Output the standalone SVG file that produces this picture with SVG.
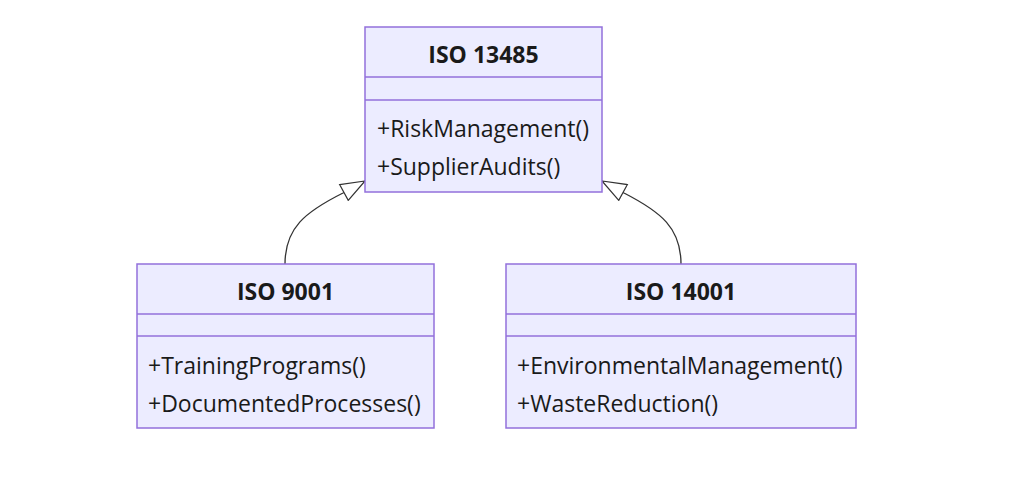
<svg xmlns="http://www.w3.org/2000/svg" width="1024" height="490" viewBox="0 0 1024 490">
<defs>
<style>
.box{fill:#ECECFF;stroke:#9370DB;stroke-width:1.5}
.div{stroke:#9370DB;stroke-width:1.5}
.title{font-family:"Open Sans","Noto Sans",sans-serif;font-weight:bold;font-size:23px;fill:#1a1a1a;text-anchor:middle}
.m{font-family:"Open Sans","Noto Sans",sans-serif;font-size:23px;fill:#1a1a1a}
.edge{fill:none;stroke:#333;stroke-width:1.3}
</style>
<marker id="tri" viewBox="0 0 26 20" refX="25" refY="10" markerWidth="26" markerHeight="20" markerUnits="userSpaceOnUse" orient="auto">
<path d="M1,1 L25,10 L1,19 Z" fill="#fff" stroke="#333" stroke-width="1.2"/>
</marker>
</defs>
<rect width="1024" height="490" fill="#fff"/>
<g id="connectors">
<path class="edge" d="M285,264 C285,228 305,212 343,193 L365,181" marker-end="url(#tri)"/>
<path class="edge" d="M681,264 C681,228 661,212 624,193 L602,181" marker-end="url(#tri)"/>
</g>
<g id="iso13485">
<rect class="box" x="365" y="27" width="237" height="165"/>
<line class="div" x1="365" y1="77" x2="602" y2="77"/>
<line class="div" x1="365" y1="100" x2="602" y2="100"/>
<text class="title" x="483.5" y="63">ISO 13485</text>
<text class="m" x="377" y="137">+RiskManagement()</text>
<text class="m" x="377" y="175">+SupplierAudits()</text>
</g>
<g id="iso9001">
<rect class="box" x="137" y="264" width="297" height="164"/>
<line class="div" x1="137" y1="314" x2="434" y2="314"/>
<line class="div" x1="137" y1="336" x2="434" y2="336"/>
<text class="title" x="285.5" y="300">ISO 9001</text>
<text class="m" x="148" y="374">+TrainingPrograms()</text>
<text class="m" x="148" y="412">+DocumentedProcesses()</text>
</g>
<g id="iso14001">
<rect class="box" x="506" y="264" width="350" height="164"/>
<line class="div" x1="506" y1="314" x2="856" y2="314"/>
<line class="div" x1="506" y1="336" x2="856" y2="336"/>
<text class="title" x="681" y="300">ISO 14001</text>
<text class="m" x="517" y="374">+EnvironmentalManagement()</text>
<text class="m" x="517" y="412">+WasteReduction()</text>
</g>
</svg>
